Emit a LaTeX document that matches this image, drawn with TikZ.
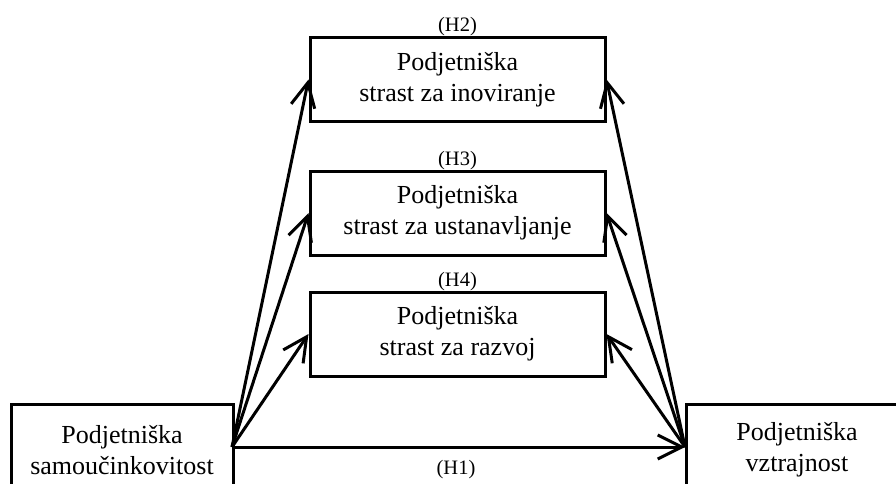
\documentclass[tikz,border=0pt]{standalone}
\usepackage{fontspec}
\setmainfont{Liberation Serif}
\usetikzlibrary{arrows.meta}
\begin{document}
\begin{tikzpicture}[x=1pt,y=-1pt,
  box/.style={draw=black,line width=3pt,fill=white,align=center,inner sep=0pt,
    font=\fontsize{26}{31}\selectfont},
  midbox/.style={box,minimum width=295pt,minimum height=84pt},
  endbox/.style={box,minimum width=222pt,minimum height=92pt},
  hyp/.style={font=\fontsize{20.5}{24}\selectfont,inner sep=0pt},
  link/.style={line width=3pt,-{Straight Barb[length=24pt,width=24pt,line width=3pt]}}]
\useasboundingbox (0,0) rectangle (896,484);
\clip (0,0) rectangle (896,484);
\fill[white] (0,0) rectangle (896,484);
% mediating passion constructs
\node[midbox] (inov) at (457.5,79.5) {Podjetniška\\strast za inoviranje};
\node[midbox] (ust)  at (457.5,213)  {Podjetniška\\strast za ustanavljanje};
\node[midbox] (raz)  at (457.5,334)  {Podjetniška\\strast za razvoj};
% hypothesis labels
\node[hyp,anchor=south] (h2) at ([yshift=-0.5pt]inov.north) {(H2)};
\node[hyp,anchor=south] (h3) at ([yshift=-0.5pt]ust.north) {(H3)};
\node[hyp,anchor=south] (h4) at ([yshift=-0.5pt]raz.north) {(H4)};
% outer constructs
\node[endbox] (self) at (122,450) {Podjetniška\\samoučinkovitost};
\node[endbox] (pers) at (797,450) {Podjetniška\\vztrajnost};
\coordinate (L) at (232,447);
\coordinate (R) at (685,447);
% paths
\draw[link] (L) -- (inov.west);
\draw[link] (L) -- (ust.west);
\draw[link] (L) -- (raz.west);
\draw[link] (R) -- (inov.east);
\draw[link] (R) -- (ust.east);
\draw[link] (R) -- (raz.east);
\draw[link] (L) -- (R);
\node[hyp] (h1) at (456,470) {(H1)};
\end{tikzpicture}
\end{document}
